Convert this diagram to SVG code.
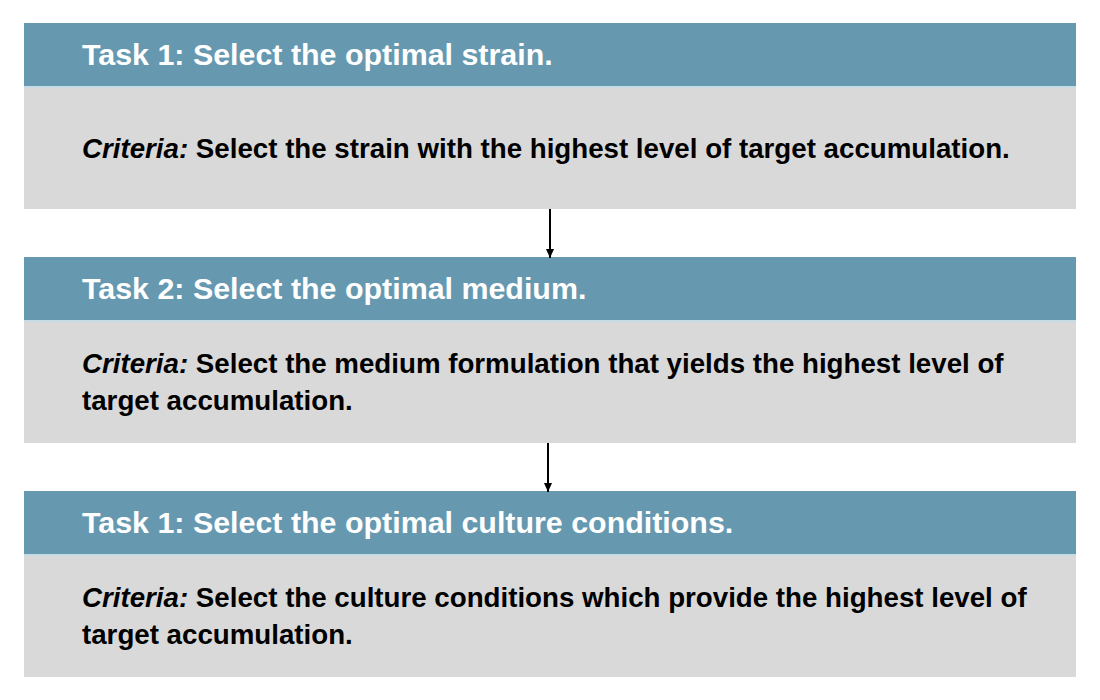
<svg xmlns="http://www.w3.org/2000/svg" width="1100" height="700" viewBox="0 0 1100 700">
<defs>
<marker id="ah" markerWidth="9" markerHeight="8" refX="9" refY="4" orient="auto" markerUnits="userSpaceOnUse" viewBox="0 0 9 8">
<path d="M0,0 L9,4 L0,8 Z" fill="#000"/>
</marker>
<style>
.hdr{fill:#6699b0}
.sep{fill:#c7dbe5}
.body{fill:#d9d9d9}
.ht{font-family:"Liberation Sans",Arial,sans-serif;font-weight:bold;font-size:30.4px;fill:#fff}
.bt{font-family:"Liberation Sans",Arial,sans-serif;font-weight:bold;font-size:27.7px;fill:#000}
.it{font-style:italic}
.conn{stroke:#000;stroke-width:2;fill:none;marker-end:url(#ah)}
</style>
</defs>
<rect width="1100" height="700" fill="#fff"/>
<g id="task1">
<rect class="hdr" x="24" y="23" width="1052" height="63"/>
<rect class="sep" x="24" y="86" width="1052" height="2"/>
<rect class="body" x="24" y="88" width="1052" height="121"/>
<text class="ht" x="82" y="65">Task 1: Select the optimal strain.</text>
<text class="bt" x="82" y="158"><tspan class="it">Criteria:</tspan> Select the strain with the highest level of target accumulation.</text>
</g>
<g id="task2">
<rect class="hdr" x="24" y="257" width="1052" height="63"/>
<rect class="sep" x="24" y="320" width="1052" height="2"/>
<rect class="body" x="24" y="322" width="1052" height="121"/>
<text class="ht" x="82" y="299">Task 2: Select the optimal medium.</text>
<text class="bt" x="82" y="373"><tspan class="it">Criteria:</tspan> Select the medium formulation that yields the highest level of</text>
<text class="bt" x="82" y="410">target accumulation.</text>
</g>
<g id="task3">
<rect class="hdr" x="24" y="491" width="1052" height="63"/>
<rect class="sep" x="24" y="554" width="1052" height="2"/>
<rect class="body" x="24" y="556" width="1052" height="121"/>
<text class="ht" x="82" y="533">Task 1: Select the optimal culture conditions.</text>
<text class="bt" x="82" y="607"><tspan class="it">Criteria:</tspan> Select the culture conditions which provide the highest level of</text>
<text class="bt" x="82" y="644">target accumulation.</text>
</g>
<g id="connectors">
<line class="conn" x1="550" y1="209" x2="550" y2="258"/>
<line class="conn" x1="548" y1="443" x2="548" y2="492"/>
</g>
</svg>
